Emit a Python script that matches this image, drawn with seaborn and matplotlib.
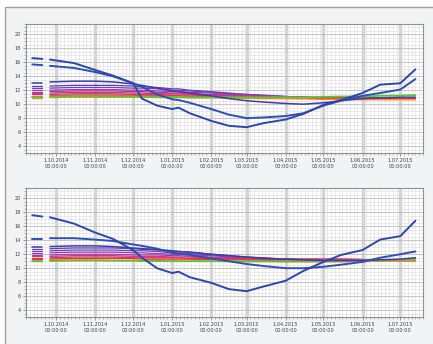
import seaborn as sns
import matplotlib
matplotlib.use("Agg")
import matplotlib.pyplot as plt
import matplotlib.dates as mdates
from matplotlib.patches import Rectangle
from matplotlib.ticker import MultipleLocator, FuncFormatter
import pandas as pd
import numpy as np

# sample dates (first two form the short early dash, then a gap)
dates = ["2014-09-12", "2014-09-20", "2014-09-26", "2014-10-15", "2014-11-01",
         "2014-11-15", "2014-12-01", "2014-12-08", "2014-12-20", "2015-01-01",
         "2015-01-06", "2015-01-15", "2015-02-01", "2015-02-15", "2015-03-01",
         "2015-03-15", "2015-04-01", "2015-04-15", "2015-05-01", "2015-05-15",
         "2015-06-01", "2015-06-15", "2015-07-01", "2015-07-13"]
segment = [0, 0] + [1] * 22

sensors = ["s01", "s02", "s03", "s04", "s05", "s06", "s07", "s08", "s09", "s10", "s11", "s12"]
colors = ["#2c48a8", "#2f50b2", "#3e3caa", "#5a3db0", "#7440b4", "#8e3eb2",
          "#aa3aa6", "#c8368e", "#dc3060", "#e8362a", "#f08c22", "#5cc23e"]
widths = [1.4, 1.4, 1.1, 0.9, 0.9, 0.9, 0.9, 0.9, 0.9, 1.0, 1.0, 1.3]

# upper chart
top_s01 = [16.6, 16.5, 16.4, 15.9, 14.9, 14.1, 13.0, 10.8, 9.8, 9.3, 9.5, 8.7, 7.6, 6.9, 6.7, 7.3, 7.8, 8.6, 9.9, 10.6, 11.6, 12.8, 13.0, 15.0]
top_s02 = [15.7, 15.6, 15.5, 15.2, 14.6, 14.0, 13.0, 12.5, 11.4, 10.7, 10.6, 10.2, 9.3, 8.5, 8.0, 8.1, 8.3, 8.7, 9.8, 10.5, 11.2, 11.6, 12.1, 13.6]
top_s03 = [13.1, 13.1, 13.2, 13.3, 13.3, 13.2, 12.9, 12.7, 12.3, 11.9, 11.8, 11.6, 11.2, 10.8, 10.5, 10.3, 10.1, 10.0, 10.2, 10.5, 10.8, 10.9, 11.0, 11.0]
top_s04 = [12.6, 12.6, 12.6, 12.7, 12.7, 12.7, 12.6, 12.5, 12.4, 12.2, 12.2, 12.0, 11.8, 11.6, 11.4, 11.3, 11.1, 11.0, 10.9, 10.9, 10.9, 10.9, 10.8, 10.8]
top_s05 = [12.3, 12.3, 12.3, 12.4, 12.4, 12.4, 12.3, 12.3, 12.2, 12.0, 12.0, 11.9, 11.7, 11.5, 11.4, 11.2, 11.1, 11.0, 10.9, 10.9, 10.9, 10.8, 10.8, 10.8]
top_s06 = [12.0, 12.0, 12.0, 12.1, 12.1, 12.1, 12.0, 12.0, 11.9, 11.8, 11.8, 11.7, 11.6, 11.4, 11.3, 11.2, 11.1, 11.0, 10.9, 10.9, 10.8, 10.8, 10.8, 10.8]
top_s07 = [11.8, 11.8, 11.8, 11.9, 11.9, 11.9, 11.8, 11.8, 11.7, 11.6, 11.6, 11.5, 11.4, 11.3, 11.2, 11.1, 11.05, 11.0, 10.95, 10.9, 10.85, 10.85, 10.8, 10.8]
top_s08 = [11.6, 11.6, 11.6, 11.7, 11.7, 11.7, 11.6, 11.6, 11.5, 11.5, 11.5, 11.4, 11.3, 11.2, 11.15, 11.1, 11.0, 11.0, 10.9, 10.9, 10.85, 10.8, 10.8, 10.8]
top_s09 = [11.4, 11.4, 11.4, 11.5, 11.5, 11.5, 11.4, 11.4, 11.4, 11.3, 11.3, 11.3, 11.2, 11.1, 11.1, 11.0, 11.0, 10.95, 10.9, 10.85, 10.8, 10.8, 10.75, 10.75]
top_s10 = [11.2, 11.2, 11.2, 11.3, 11.3, 11.3, 11.3, 11.2, 11.2, 11.2, 11.2, 11.1, 11.1, 11.0, 11.0, 10.95, 10.9, 10.9, 10.85, 10.8, 10.8, 10.75, 10.7, 10.7]
top_s11 = [10.95, 10.95, 10.95, 11.0, 11.0, 11.0, 11.0, 11.0, 10.95, 10.95, 10.95, 10.9, 10.9, 10.85, 10.85, 10.8, 10.8, 10.75, 10.7, 10.7, 10.65, 10.65, 10.65, 10.65]
top_s12 = [11.1, 11.1, 11.1, 11.15, 11.15, 11.1, 11.1, 11.1, 11.05, 11.05, 11.05, 11.0, 11.0, 11.0, 11.0, 11.0, 11.0, 11.0, 11.05, 11.1, 11.1, 11.2, 11.25, 11.3]

# lower chart
bot_s01 = [17.6, 17.4, 17.3, 16.4, 15.1, 14.2, 12.6, 11.5, 10.0, 9.3, 9.5, 8.7, 7.9, 7.0, 6.7, 7.4, 8.2, 9.6, 10.9, 11.9, 12.6, 14.1, 14.6, 16.8]
bot_s02 = [14.2, 14.2, 14.3, 14.3, 14.1, 13.9, 13.4, 13.2, 12.8, 12.2, 12.1, 11.9, 11.4, 11.0, 10.6, 10.3, 10.0, 10.0, 10.2, 10.5, 10.9, 11.5, 12.0, 12.4]
bot_s03 = [13.1, 13.1, 13.1, 13.2, 13.2, 13.1, 12.9, 12.8, 12.7, 12.5, 12.4, 12.3, 12.0, 11.8, 11.6, 11.4, 11.3, 11.2, 11.1, 11.1, 11.1, 11.2, 11.3, 11.5]
bot_s04 = [12.8, 12.8, 12.8, 12.9, 12.9, 12.9, 12.8, 12.7, 12.6, 12.4, 12.4, 12.3, 12.0, 11.8, 11.6, 11.5, 11.3, 11.2, 11.1, 11.1, 11.1, 11.1, 11.2, 11.3]
bot_s05 = [12.5, 12.5, 12.5, 12.6, 12.6, 12.6, 12.5, 12.5, 12.4, 12.2, 12.2, 12.1, 11.9, 11.7, 11.5, 11.4, 11.3, 11.2, 11.1, 11.1, 11.1, 11.1, 11.2, 11.2]
bot_s06 = [12.2, 12.2, 12.2, 12.3, 12.3, 12.3, 12.2, 12.2, 12.1, 12.0, 12.0, 11.9, 11.8, 11.6, 11.5, 11.4, 11.3, 11.2, 11.2, 11.1, 11.1, 11.1, 11.2, 11.2]
bot_s07 = [11.9, 11.9, 11.9, 12.0, 12.0, 12.0, 11.9, 11.9, 11.9, 11.8, 11.8, 11.7, 11.6, 11.5, 11.4, 11.35, 11.3, 11.25, 11.2, 11.2, 11.15, 11.1, 11.15, 11.2]
bot_s08 = [11.7, 11.7, 11.7, 11.8, 11.8, 11.8, 11.7, 11.7, 11.7, 11.6, 11.6, 11.6, 11.5, 11.4, 11.35, 11.3, 11.3, 11.3, 11.3, 11.3, 11.25, 11.15, 11.1, 11.1]
bot_s09 = [11.5, 11.5, 11.5, 11.6, 11.6, 11.6, 11.5, 11.5, 11.5, 11.5, 11.5, 11.4, 11.4, 11.35, 11.3, 11.3, 11.3, 11.3, 11.3, 11.3, 11.25, 11.15, 11.1, 11.1]
bot_s10 = [11.3, 11.3, 11.3, 11.4, 11.4, 11.4, 11.4, 11.3, 11.3, 11.3, 11.3, 11.3, 11.25, 11.2, 11.2, 11.15, 11.1, 11.1, 11.1, 11.1, 11.05, 11.05, 11.05, 11.05]
bot_s11 = [11.0, 11.0, 11.0, 11.05, 11.05, 11.05, 11.05, 11.0, 11.0, 11.0, 11.0, 11.0, 11.0, 10.95, 10.95, 10.95, 10.9, 10.9, 10.9, 10.9, 10.95, 11.0, 11.05, 11.1]
bot_s12 = [11.1, 11.1, 11.1, 11.15, 11.15, 11.1, 11.1, 11.05, 11.05, 11.0, 11.0, 11.0, 11.0, 11.0, 11.0, 11.0, 11.0, 11.0, 11.0, 11.05, 11.1, 11.15, 11.2, 11.3]

top_series = [top_s01, top_s02, top_s03, top_s04, top_s05, top_s06,
              top_s07, top_s08, top_s09, top_s10, top_s11, top_s12]
bot_series = [bot_s01, bot_s02, bot_s03, bot_s04, bot_s05, bot_s06,
              bot_s07, bot_s08, bot_s09, bot_s10, bot_s11, bot_s12]

y_ticks = [4, 6, 8, 10, 12, 14, 16, 18, 20]


def to_frame(series):
    rows = []
    for name, vals in zip(sensors, series):
        for d, s, v in zip(dates, segment, vals):
            rows.append({"date": pd.Timestamp(d), "seg": s, "temp": v, "sensor": name})
    return pd.DataFrame(rows)


sns.set_theme(style="white")
plt.rcParams["font.family"] = ["DejaVu Sans"]

fig = plt.figure(figsize=(4.33, 3.44), dpi=100)
fig.patch.set_facecolor("white")
# outer panel frame
frame = Rectangle((5 / 433, -0.01), 1.0, 1 - 7 / 344 + 0.01, transform=fig.transFigure,
                  facecolor="#f2f3f4", edgecolor="#a0a0a0", linewidth=1.0, zorder=0)
fig.patches.append(frame)

ax_top = fig.add_axes([26 / 433, 1 - 153 / 344, 397 / 433, 129 / 344])
ax_bot = fig.add_axes([26 / 433, 1 - 317 / 344, 397 / 433, 129 / 344])

# draw order: purples first, then warm/green, blues on top
order = [3, 4, 5, 6, 7, 8, 9, 10, 11, 2, 1, 0]

for ax, series in [(ax_top, top_series), (ax_bot, bot_series)]:
    ax.set_zorder(2)
    df = to_frame(series)
    ax.set_facecolor("white")
    for i in order:
        sub = df[df["sensor"] == sensors[i]]
        sns.lineplot(data=sub, x="date", y="temp", units="seg", estimator=None,
                     color=colors[i], linewidth=widths[i], ax=ax, legend=False)

    ax.set_xlim(pd.Timestamp("2014-09-07"), pd.Timestamp("2015-07-19"))
    ax.set_ylim(3.0, 21.5)
    ax.set_xlabel("")
    ax.set_ylabel("")

    ax.xaxis.set_major_locator(mdates.MonthLocator(bymonthday=1))
    ax.xaxis.set_minor_locator(mdates.DayLocator(bymonthday=[4, 7, 10, 13, 16, 19, 22, 25, 28]))
    ax.xaxis.set_major_formatter(FuncFormatter(
        lambda x, pos: "{0.day}.{0.month:02d}.{0.year}\n00:00:00".format(mdates.num2date(x))))
    ax.set_yticks(y_ticks)
    ax.yaxis.set_minor_locator(MultipleLocator(0.5))

    ax.grid(which="minor", color="#dedede", linewidth=0.45)
    ax.grid(which="major", axis="x", color="#d2d2d2", linewidth=2.4)
    ax.grid(which="major", axis="y", color="#bdbdbd", linewidth=0.6)
    ax.set_axisbelow(True)

    ax.tick_params(which="major", labelsize=3.6, length=2, width=0.5, colors="#707070",
                   labelcolor="#404040", pad=1.5, bottom=True, left=True)
    ax.tick_params(which="minor", length=1.2, width=0.4, colors="#808080", bottom=True, left=True)
    for sp in ax.spines.values():
        sp.set_color("#909090")
        sp.set_linewidth(0.8)

fig.savefig("out.png", dpi=100, facecolor=fig.get_facecolor())
